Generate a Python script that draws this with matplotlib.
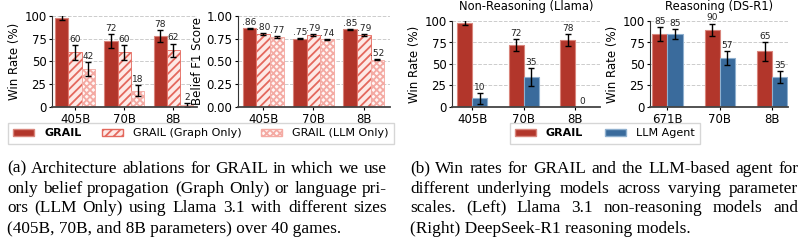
import numpy as np
import matplotlib
matplotlib.use('Agg')
import matplotlib.pyplot as plt
from matplotlib.patches import Patch

# (a) ablations, Llama 3.1
sizes_a = ['405B', '70B', '8B']
grail_win = [98, 72, 78]
grail_win_err = [3, 7.5, 6.5]
graph_win = [60, 60, 62]
graph_win_err = [8, 8, 7.5]
llmonly_win = [42, 18, 2]
llmonly_win_err = [7.5, 6, 2.5]

grail_f1 = [0.86, 0.75, 0.85]
grail_f1_err = [0.006, 0.006, 0.006]
graph_f1 = [0.80, 0.79, 0.79]
graph_f1_err = [0.008, 0.007, 0.007]
llmonly_f1 = [0.77, 0.74, 0.52]
llmonly_f1_err = [0.01, 0.008, 0.007]

# (b) GRAIL vs LLM agent
sizes_llama = ['405B', '70B', '8B']
grail_llama = [98, 72, 78]
grail_llama_err = [3, 7, 7]
agent_llama = [10, 35, 0]
agent_llama_err = [6.7, 10.5, 0]

sizes_r1 = ['671B', '70B', '8B']
grail_r1 = [85, 90, 65]
grail_r1_err = [8, 7, 11]
agent_r1 = [85, 57, 35]
agent_r1_err = [6, 8, 7]

cap_a = ["(a) Architecture ablations for GRAIL in which we use",
         "only belief propagation (Graph Only) or language pri-",
         "ors (LLM Only) using Llama 3.1 with different sizes",
         "(405B, 70B, and 8B parameters) over 40 games."]
cap_b = ["(b) Win rates for GRAIL and the LLM-based agent for",
         "different underlying models across varying parameter",
         "scales.  (Left) Llama 3.1 non-reasoning models and",
         "(Right) DeepSeek-R1 reasoning models."]

RED = '#b2362b'
RED_EDGE = '#d9857c'
BLUE = '#3a6b9c'
BLUE_EDGE = '#8fb0cf'
HATCH_G = '#e4685d'
HATCH_L = '#f4aaa3'
FACE_G = '#fde9e6'
FACE_L = '#fff6f5'

plt.rcParams['hatch.linewidth'] = 1.3
plt.rcParams['font.size'] = 8.5

W, H = 806, 243
fig = plt.figure(figsize=(W / 100, H / 100), dpi=100)


def make_ax(left, right, top, bottom):
    ax = fig.add_axes([left / W, 1 - bottom / H, (right - left) / W, (bottom - top) / H])
    ax.spines['top'].set_visible(False)
    ax.spines['right'].set_visible(False)
    ax.spines['left'].set_color('#333333')
    ax.spines['bottom'].set_color('#444444')
    ax.spines['bottom'].set_linewidth(1.3)
    ax.yaxis.grid(True, linestyle='--', color='#cccccc', linewidth=0.7)
    ax.set_axisbelow(True)
    ax.tick_params(labelsize=8.5, length=2.5, width=0.8, pad=1.5)
    return ax


def labels(ax, xs, vals, errs, fmt):
    for x, v, e in zip(xs, vals, errs):
        ax.annotate(fmt(v), (x, v + e), xytext=(0, 0.8), textcoords='offset points',
                    ha='center', va='bottom', fontsize=6.5, color='#222222')


ekw = dict(ecolor='black', elinewidth=1, capsize=2.2, capthick=1)

# ---- panel a1: win rate
x = np.arange(len(sizes_a))
w = 0.27
ax1 = make_ax(52, 197, 15.7, 107)
ax1.bar(x - w, grail_win, w, yerr=grail_win_err, color=RED, edgecolor=RED_EDGE, linewidth=0.8, error_kw=ekw)
ax1.bar(x, graph_win, w, yerr=graph_win_err, color=FACE_G, edgecolor=HATCH_G, linewidth=0.6,
        hatch='////', error_kw=ekw)
ax1.bar(x + w, llmonly_win, w, yerr=llmonly_win_err, color=FACE_L, edgecolor=HATCH_L, linewidth=0.6,
        hatch='xxxxx', error_kw=ekw)
labels(ax1, x - w, grail_win, grail_win_err, lambda v: f'{v:d}')
labels(ax1, x, graph_win, graph_win_err, lambda v: f'{v:d}')
labels(ax1, x + w, llmonly_win, llmonly_win_err, lambda v: f'{v:d}')
ax1.set_ylim(0, 100)
ax1.set_yticks([0, 25, 50, 75, 100])
ax1.set_xticks(x)
ax1.set_xticklabels(sizes_a)
ax1.set_xlim(-0.47, 2.48)
ax1.set_ylabel('Win Rate (%)', fontsize=8.5, labelpad=2)

# ---- panel a2: belief F1
ax2 = make_ax(238, 390, 15.7, 107)
ax2.bar(x - w, grail_f1, w, yerr=grail_f1_err, color=RED, edgecolor=RED_EDGE, linewidth=0.8, error_kw=ekw)
ax2.bar(x, graph_f1, w, yerr=graph_f1_err, color=FACE_G, edgecolor=HATCH_G, linewidth=0.6,
        hatch='////', error_kw=ekw)
ax2.bar(x + w, llmonly_f1, w, yerr=llmonly_f1_err, color=FACE_L, edgecolor=HATCH_L, linewidth=0.6,
        hatch='xxxxx', error_kw=ekw)
f1fmt = lambda v: f'{v:.2f}'[1:]
labels(ax2, x - w, grail_f1, grail_f1_err, f1fmt)
labels(ax2, x, graph_f1, graph_f1_err, f1fmt)
labels(ax2, x + w, llmonly_f1, llmonly_f1_err, f1fmt)
ax2.set_ylim(0, 1)
ax2.set_yticks([0, 0.25, 0.5, 0.75, 1.0])
ax2.set_yticklabels(['0.00', '0.25', '0.50', '0.75', '1.00'])
ax2.set_xticks(x)
ax2.set_xticklabels(sizes_a)
ax2.set_xlim(-0.5, 2.52)
ax2.set_ylabel('Belief F1 Score', fontsize=8.5, labelpad=2)

# ---- panel b1 / b2
w2 = 0.29
panels = [
    (452, 600, sizes_llama, grail_llama, grail_llama_err, agent_llama, agent_llama_err,
     'Non-Reasoning (Llama)', (-0.39, 2.48)),
    (650, 788, sizes_r1, grail_r1, grail_r1_err, agent_r1, agent_r1_err,
     'Reasoning (DS-R1)', (-0.33, 2.3)),
]
for left, right, sz, g, ge, a, ae, title, xl in panels:
    ax = make_ax(left, right, 21, 107)
    xb = np.arange(len(sz))
    ax.bar(xb - w2 / 2, g, w2, yerr=ge, color=RED, edgecolor=RED_EDGE, linewidth=0.8, error_kw=ekw)
    ax.bar(xb + w2 / 2, a, w2, yerr=[e if e > 0 else np.nan for e in ae], color=BLUE,
           edgecolor=BLUE_EDGE, linewidth=0.8, error_kw=ekw)
    labels(ax, xb - w2 / 2, g, ge, lambda v: f'{v:d}')
    labels(ax, xb + w2 / 2, a, ae, lambda v: f'{v:d}')
    ax.set_ylim(0, 100)
    ax.set_yticks([0, 25, 50, 75, 100])
    ax.set_xticks(xb)
    ax.set_xticklabels(sz)
    ax.set_xlim(*xl)
    ax.set_ylabel('Win Rate (%)', fontsize=8.5, labelpad=2)
    ax.set_title(title, fontsize=8.3, pad=8)

# ---- legends
h_a = [Patch(facecolor=RED, edgecolor=RED_EDGE, label='GRAIL'),
       Patch(facecolor=FACE_G, edgecolor=HATCH_G, hatch='////', label='GRAIL (Graph Only)'),
       Patch(facecolor=FACE_L, edgecolor=HATCH_L, hatch='xxxxx', label='GRAIL (LLM Only)')]
leg_a = fig.legend(handles=h_a, loc='center', bbox_to_anchor=(201 / W, 1 - 133.5 / H), ncol=3,
                   fontsize=8, handlelength=1.9, handleheight=0.6, handletextpad=0.9,
                   columnspacing=1.8, borderpad=0.45, frameon=True, edgecolor='#cccccc',
                   fancybox=False)
leg_a.get_texts()[0].set_fontweight('bold')

h_b = [Patch(facecolor=RED, edgecolor=RED_EDGE, label='GRAIL'),
       Patch(facecolor=BLUE, edgecolor=BLUE_EDGE, label='LLM Agent')]
leg_b = fig.legend(handles=h_b, loc='center', bbox_to_anchor=(605 / W, 1 - 133.5 / H), ncol=2,
                   fontsize=8, handlelength=1.9, handleheight=0.6, handletextpad=0.9,
                   columnspacing=2.0, borderpad=0.45, frameon=True, edgecolor='#cccccc',
                   fancybox=False)
leg_b.get_texts()[0].set_fontweight('bold')

# ---- captions (justified)
renderer = fig.canvas.get_renderer()
CAP_FS = 12.4


def caption(lines, x0, x1, y0, step=20):
    for i, line in enumerate(lines):
        yy = 1 - (y0 + i * step) / H
        if i == len(lines) - 1:
            fig.text(x0 / W, yy, line, family='Liberation Serif', fontsize=CAP_FS, va='baseline')
            continue
        words = line.split()
        ts = [fig.text(0, yy, wd, family='Liberation Serif', fontsize=CAP_FS, va='baseline') for wd in words]
        widths = [t.get_window_extent(renderer).width for t in ts]
        gap = (x1 - x0 - sum(widths)) / (len(words) - 1)
        pos = x0
        for t, wd in zip(ts, widths):
            t.set_x(pos / W)
            pos += wd + gap


caption(cap_a, 7, 387, 172.5)
caption(cap_b, 410, 798, 172.5)

fig.savefig('out.png', dpi=100)
